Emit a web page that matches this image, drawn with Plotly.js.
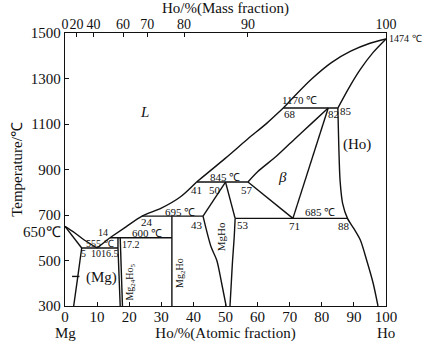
<!DOCTYPE html>
<html>
<head>
<meta charset="utf-8">
<script src="https://cdn.plot.ly/plotly-3.0.1.min.js"></script>
<style>html,body{margin:0;padding:0;background:#fff;}#chart{width:423px;height:351px;}</style>
</head>
<body>
<div id="chart"></div>
<script>
// ---- axis data ----
const tempTicks = [300, 500, 700, 900, 1100, 1300, 1500];
const atomicTicks = [0, 10, 20, 30, 40, 50, 60, 70, 80, 90, 100];
const massTickPos = [0, 3.6, 8.9, 18.1, 25.6, 37.1, 57.0, 100];
const massTickLabels = ['0', '20', '40', '60', '70', '80', '90', '100'];

// ---- phase boundaries (Ho at.%, T in C) ----
const liqMgX = [0, 3, 6, 10];            const liqMgT = [650, 622, 590, 555];
const solMgX = [0, 5.2];                 const solMgT = [650, 555];
const solvMgX = [5.2, 4, 2.7];           const solvMgT = [555, 430, 300];
const liqAX = [10, 14];                  const liqAT = [555, 600];
const liqBX = [14, 19, 24, 30, 36, 41];  const liqBT = [600, 648, 695, 730, 780, 845];
const liqCX = [41, 50, 57, 63, 68];      const liqCT = [845, 950, 1035, 1105, 1170];
const liqDX = [68, 72, 77, 83, 89, 95, 100]; const liqDT = [1170, 1230, 1300, 1370, 1420, 1455, 1474];
const solHoX = [85, 88.5, 92, 96, 100];  const solHoT = [1170, 1260, 1340, 1415, 1474];
const solvHoX = [85, 85.3, 85.7, 86.5, 88, 90, 92, 94, 96, 97.5];
const solvHoT = [1170, 1000, 850, 750, 685, 640, 590, 500, 400, 300];
const betaLX = [57, 60, 66, 72, 77, 82];  const betaLT = [845, 890, 960, 1040, 1105, 1170];
const betaBX = [57, 71];                 const betaBT = [845, 685];
const betaRX = [71, 82];                 const betaRT = [685, 1170];
const mgHoTopLX = [43, 50];              const mgHoTopLT = [695, 845];
const mgHoTopRX = [50, 53];              const mgHoTopRT = [845, 685];
const mgHoLX = [43, 45.5, 47.3, 48.8, 50.2]; const mgHoLT = [695, 560, 500, 400, 300];
const mgHoRX = [53, 52.7, 52.2, 51.8, 51.4]; const mgHoRT = [685, 600, 500, 400, 300];
const mg2HoX = [33.3, 33.3];             const mg2HoT = [695, 300];
const mg24LX = [16.5, 16.5, 17.2];       const mg24LT = [600, 555, 300];
const mg24RX = [17.2, 17.9];             const mg24RT = [600, 300];
const pointerX = [2.2, 4.5];             const pointerT = [430, 430];

// invariant isotherms
const isoT    = [555, 600, 695, 845, 685, 1170];
const isoFrom = [5.2, 14, 24, 41, 53, 68];
const isoTo   = [16.5, 33.3, 43, 57, 88, 85];

const FONT = 'Liberation Serif, Times New Roman, serif';
const ink = '#111';

function seg(x, y, smooth) {
  return {x: x, y: y, type: 'scatter', mode: 'lines', hoverinfo: 'skip', showlegend: false,
    line: {color: ink, width: 1.4, shape: smooth ? 'spline' : 'linear', smoothing: 0.8}};
}

const traces = [
  seg(liqMgX, liqMgT, true), seg(solMgX, solMgT), seg(solvMgX, solvMgT, true),
  seg(liqAX, liqAT), seg(liqBX, liqBT, true), seg(liqCX, liqCT, true), seg(liqDX, liqDT, true),
  seg(solHoX, solHoT, true), seg(solvHoX, solvHoT, true),
  seg(betaLX, betaLT, true), seg(betaBX, betaBT), seg(betaRX, betaRT),
  seg(mgHoTopLX, mgHoTopLT), seg(mgHoTopRX, mgHoTopRT),
  seg(mgHoLX, mgHoLT, true), seg(mgHoRX, mgHoRT, true),
  seg(mg2HoX, mg2HoT), seg(mg24LX, mg24LT), seg(mg24RX, mg24RT),
  seg(pointerX, pointerT)
];
isoT.forEach((t, i) => traces.push(seg([isoFrom[i], isoTo[i]], [t, t])));
// carrier for the top (mass fraction) axis
traces.push({x: massTickPos, y: massTickPos.map(() => tempTicks[0]), xaxis: 'x2', type: 'scatter',
  mode: 'markers', marker: {opacity: 0}, hoverinfo: 'skip', showlegend: false});

function lab(text, x, y, size, extra) {
  return Object.assign({text: text, x: x, y: y, xref: 'x', yref: 'y', showarrow: false,
    xanchor: 'center', yanchor: 'middle',
    font: {family: FONT, size: size || 11, color: ink}}, extra || {});
}

const annotations = [
  lab('<i>L</i>', 24.9, 1153, 15),
  lab('<i>β</i>', 67.6, 867, 15),
  lab('(Ho)', 91, 1008, 15),
  lab('(Mg)', 11.4, 427, 15),
  lab('Mg<sub>24</sub>Ho<sub>5</sub>', 20.4, 405, 10, {textangle: -90}),
  lab('Mg<sub>2</sub>Ho', 35.8, 445, 10, {textangle: -90}),
  lab('MgHo', 48.5, 605, 11, {textangle: -90}),
  lab(isoT[5] + ' ℃', 73.2, 1205), lab('68', 70.1, 1142), lab('82', 83.6, 1142), lab('85', 87.4, 1155),
  lab(isoT[3] + ' ℃', 49.8, 867), lab('41', 41.1, 810), lab('50', 46.7, 810), lab('57', 56.7, 810),
  lab(isoT[2] + ' ℃', 35.8, 713), lab('24', 25.5, 669), lab('43', 41.1, 656), lab('53', 55.5, 656),
  lab(isoT[4] + ' ℃', 79.4, 713), lab('71', 71.5, 650), lab('88', 86.9, 650),
  lab(isoT[1] + ' ℃', 25.5, 621), lab('14', 11.8, 621, 10), lab('17.2', 20.5, 572, 10),
  lab(isoT[0] + ' ℃', 10.9, 575, 10), lab('5', 5.8, 531, 10), lab('10', 9.6, 531, 10), lab('16.5', 14.0, 531, 10),
  lab('1474 ℃', 1.003, 1474, 10, {xref: 'paper', xanchor: 'left'}),
  lab('650℃', -0.005, 625, 15, {xref: 'paper', xanchor: 'right'}),
  lab('Mg', 0, -0.1, 15, {yref: 'paper'}),
  lab('Ho', 100, -0.1, 15, {yref: 'paper'})
];

const axisFont = {family: FONT, size: 15, color: ink};
const layout = {
  width: 423, height: 351,
  margin: {l: 65, r: 37, t: 33, b: 45},
  paper_bgcolor: '#fff', plot_bgcolor: '#fff',
  font: {family: FONT, color: ink},
  showlegend: false,
  xaxis: {range: [0, 100], tickvals: atomicTicks, ticks: 'inside', ticklen: 4, tickcolor: ink, tickangle: 0,
    ticklabelstandoff: -3,
    showline: true, linecolor: ink, linewidth: 1.3, mirror: true, showgrid: false, zeroline: false,
    tickfont: axisFont, title: {text: 'Ho/%(Atomic fraction)', font: axisFont, standoff: 0}},
  xaxis2: {range: [0, 100], overlaying: 'x', side: 'top', tickvals: massTickPos, ticktext: massTickLabels,
    ticks: 'inside', ticklen: 4, tickcolor: ink, tickangle: 0, showline: false, showgrid: false, zeroline: false,
    tickfont: {family: FONT, size: 14, color: ink}, title: {text: 'Ho/%(Mass fraction)', font: axisFont, standoff: 0}},
  yaxis: {range: [300, 1500], tickvals: tempTicks, ticks: 'inside', ticklen: 4, tickcolor: ink,
    showline: true, linecolor: ink, linewidth: 1.3, mirror: true, showgrid: false, zeroline: false,
    tickfont: axisFont, title: {text: 'Temperature/℃', font: axisFont, standoff: 4}},
  annotations: annotations
};

Plotly.newPlot('chart', traces, layout, {staticPlot: true, displayModeBar: false});
</script>
</body>
</html>
